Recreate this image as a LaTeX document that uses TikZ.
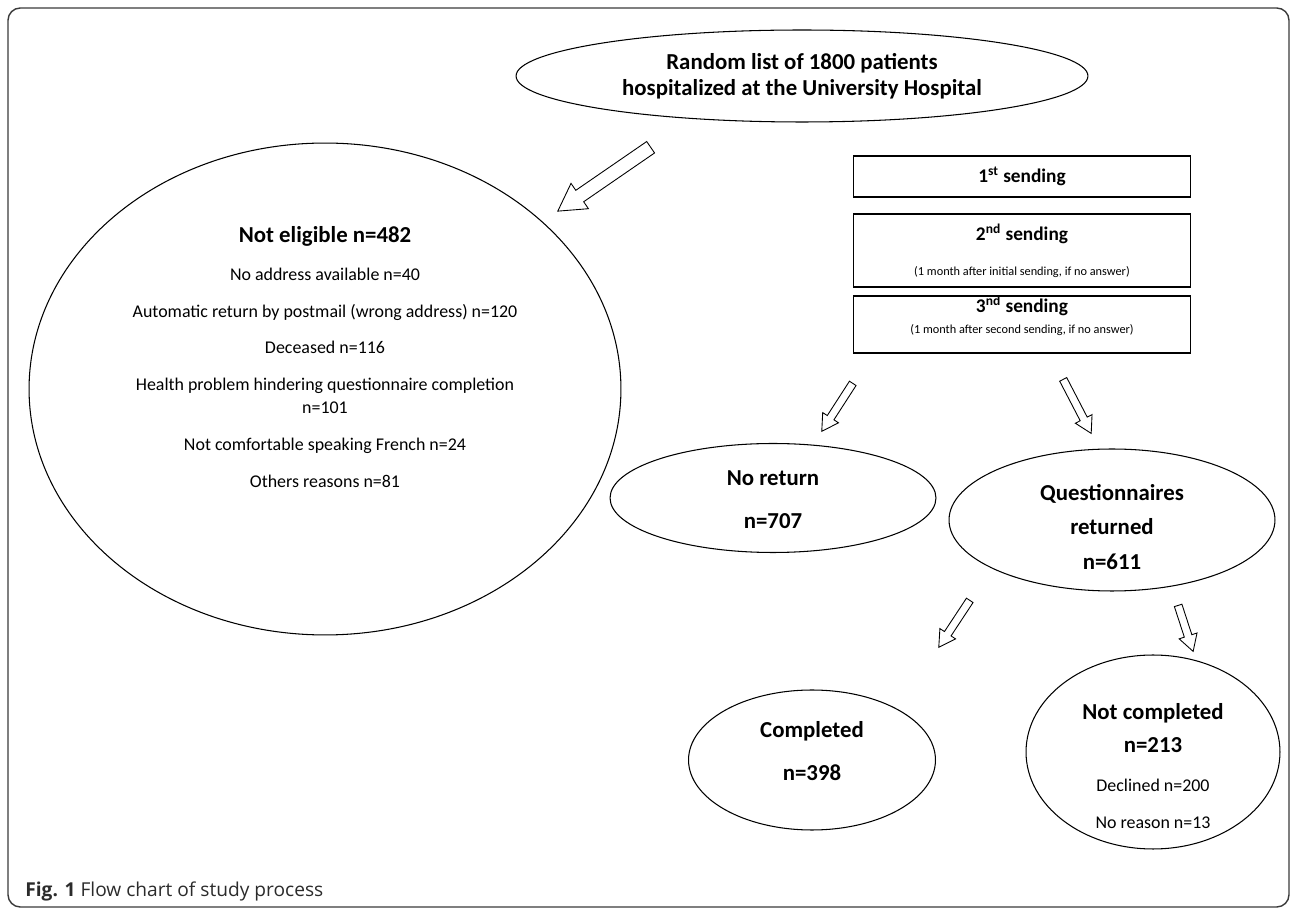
\documentclass[tikz,border=0pt]{standalone}
\usepackage{fontspec}
\setmainfont{Carlito}
\newfontfamily\capfont{Open Sans}
\usetikzlibrary{shapes.geometric, shapes.arrows, calc, positioning}
\definecolor{framegray}{HTML}{3A3A3A}
\definecolor{captiongray}{HTML}{2B2B2B}

\tikzset{
  oval/.style={ellipse, draw=black, line width=0.6pt, inner sep=0pt},
  sendbox/.style={rectangle, draw=black, line width=0.6pt, minimum width=6.74cm, inner sep=0pt},
  bigtxt/.style={align=center, font=\fontsize{13}{14.8}\selectfont\bfseries},
  smalltxt/.style={align=center, font=\fontsize{10.2}{13}\selectfont},
  blockarrow/.style={single arrow, draw=black, fill=white, line width=0.5pt,
    inner xsep=0pt, single arrow tip angle=60, single arrow head indent=0pt, anchor=tail}
}
% hollow arrow: from, to, half shaft, head extend
\newcommand{\hollowarrow}[4]{%
  \path let \p1=($(#2)-(#1)$), \n1={veclen(\x1,\y1)}, \n2={atan2(\y1,\x1)} in
    node[blockarrow, minimum height=\n1, inner ysep=#3, single arrow head extend=#4, rotate=\n2] at (#1) {};}

\begin{document}
\begin{tikzpicture}[x=0.02cm, y=-0.02cm]
  \useasboundingbox (0,0) rectangle (1296,918);
  % Cadre
  \draw[framegray, line width=0.8pt, rounded corners=7pt] (8,8) rectangle (1289,907);

  % Liste initiale
  \node[oval, minimum width=11.44cm, minimum height=1.84cm, bigtxt] (patients) at (802,76)
    {Random list of 1800 patients\\hospitalized at the University Hospital};

  % Non eligibles
  \node[oval, minimum width=11.84cm, minimum height=9.84cm] (noteligible) at (325,389) {};
  \node[smalltxt] (reasons) at (325,357)
    {{\fontsize{13}{14.8}\selectfont\bfseries Not eligible n=482}\\[8.5pt]
     No address available n=40\\[8pt]
     Automatic return by postmail (wrong address) n=120\\[8pt]
     Deceased n=116\\[8pt]
     Health problem hindering questionnaire completion\\
     n=101\\[8pt]
     Not comfortable speaking French n=24\\[8pt]
     Others reasons n=81};

  % Envois
  \node[sendbox, minimum height=0.82cm, font=\fontsize{11}{13}\selectfont\bfseries] (send1) at (1022,176.5)
    {1\textsuperscript{st} sending};
  \node[sendbox, minimum height=1.46cm, align=center, font=\fontsize{11}{13}\selectfont\bfseries] (send2) at (1022,250.5)
    {2\textsuperscript{nd} sending\\[7pt]
     {\fontsize{7}{8.4}\selectfont\mdseries (1 month after initial sending, if no answer)}};
  \node[sendbox, minimum height=1.14cm] (send3) at (1022,324.5) {};
  \node[align=center, font=\fontsize{11}{13}\selectfont\bfseries] (send3txt) at (1022,316)
    {3\textsuperscript{nd} sending\\[-1pt]
     {\fontsize{7}{8.4}\selectfont\mdseries (1 month after second sending, if no answer)}};

  % Retours
  \node[oval, minimum width=6.52cm, minimum height=2.18cm] (noreturn) at (773,498) {};
  \node[bigtxt] (noreturntxt) at (773,500) {No return\\[9.6pt]n=707};
  \node[oval, minimum width=6.52cm, minimum height=2.84cm] (returned) at (1112,520) {};
  \node[bigtxt] (returnedtxt) at (1112,527) {Questionnaires\\[4.8pt]returned\\[4.8pt]n=611};

  % Questionnaires
  \node[oval, minimum width=4.94cm, minimum height=2.8cm] (completed) at (812,760) {};
  \node[bigtxt] (completedtxt) at (812,751) {Completed\\[9.6pt]n=398};
  \node[oval, minimum width=5.08cm, minimum height=3.88cm] (notcompleted) at (1153,752) {};
  \node[smalltxt] (notcompletedtxt) at (1153,766)
    {{\fontsize{13}{14.8}\selectfont\bfseries Not completed}\\[6pt]
     {\fontsize{13}{14.8}\selectfont\bfseries n=213}\\[9pt]
     Declined n=200\\[8pt]
     No reason n=13};

  % Fleches
  \coordinate (a1s) at (651,147);  \coordinate (a1e) at (558,211);
  \coordinate (a2s) at (853,383);  \coordinate (a2e) at (822,431);
  \coordinate (a3s) at (1063,379); \coordinate (a3e) at (1091,433);
  \coordinate (a4s) at (970,600);  \coordinate (a4e) at (939,647);
  \coordinate (a5s) at (1178,605); \coordinate (a5e) at (1193,651);
  \hollowarrow{a1s}{a1e}{3.7pt}{4.8pt}
  \hollowarrow{a2s}{a2e}{2pt}{3.1pt}
  \hollowarrow{a3s}{a3e}{2pt}{3.1pt}
  \hollowarrow{a4s}{a4e}{2pt}{3.1pt}
  \hollowarrow{a5s}{a5e}{2pt}{3.1pt}

  % Legende
  \node[anchor=base west, inner sep=0pt, text=captiongray, font=\capfont\fontsize{10.9}{13}\selectfont] (caption) at (25,897)
    {\textbf{Fig. 1} Flow chart of study process};
\end{tikzpicture}
\end{document}
